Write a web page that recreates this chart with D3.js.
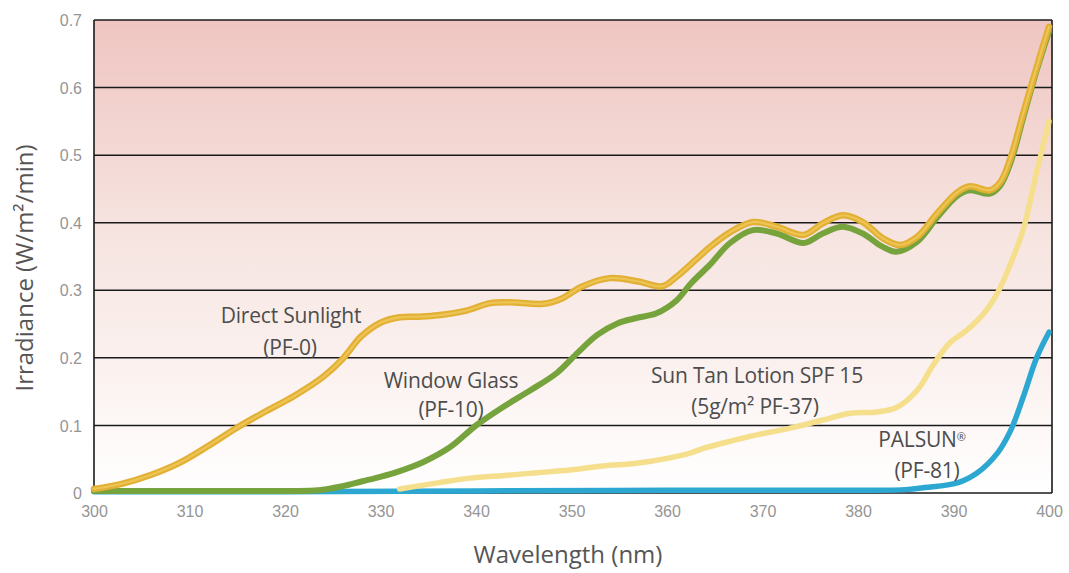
<!DOCTYPE html>
<html>
<head>
<meta charset="utf-8">
<script src="https://cdn.jsdelivr.net/npm/d3@7"></script>
<style>
  html, body { margin: 0; padding: 0; background: #ffffff; }
  svg { display: block; font-family: "Open Sans", "Noto Sans", sans-serif; }
</style>
</head>
<body>
<svg id="chart" width="1069" height="573"></svg>
<script>
// ---- data ----
const xTicks = [300, 310, 320, 330, 340, 350, 360, 370, 380, 390, 400];
const yTicks = [0, 0.1, 0.2, 0.3, 0.4, 0.5, 0.6, 0.7];
const yTickLabels = ["0", "0.1", "0.2", "0.3", "0.4", "0.5", "0.6", "0.7"];

const sunWl = [300,303,306,309,312,315,318,321,324,326,328,330,332,334,336,339,341.5,344,347,349,351,354,357,359.5,361,363,364.5,366.5,369,371.5,374.3,376.3,378.4,380.5,382.6,384.4,386.2,388.3,390.4,391.7,393.8,394.9,396,397.3,398.7,400];
const sunVal = [0.006,0.014,0.027,0.045,0.07,0.097,0.121,0.144,0.172,0.198,0.232,0.252,0.26,0.261,0.263,0.27,0.281,0.282,0.28,0.288,0.305,0.318,0.313,0.306,0.32,0.345,0.364,0.385,0.401,0.394,0.382,0.399,0.411,0.401,0.377,0.367,0.379,0.414,0.445,0.454,0.448,0.46,0.497,0.562,0.63,0.69];

const glassWl = [300,310,320,323.5,326,328,330,331.7,334.5,337.3,340.1,342.8,345.7,348.5,350.6,352.7,354.8,356.8,358.9,361,362.5,364.5,366.6,369,371.5,374.3,376.3,378.4,380.5,382.5,384,386.2,388.3,390.4,391.7,393.8,394.9,396,397.3,398.7,400];
const glassVal = [0.003,0.003,0.003,0.004,0.01,0.017,0.024,0.031,0.046,0.068,0.101,0.127,0.152,0.178,0.207,0.234,0.251,0.259,0.266,0.285,0.31,0.338,0.37,0.389,0.384,0.37,0.384,0.394,0.384,0.365,0.357,0.372,0.408,0.44,0.448,0.443,0.455,0.49,0.555,0.625,0.683];

const lotionWl = [332,336,339.4,343,346.4,349.8,353.3,356.8,360.3,362.4,363.8,365.9,369.4,372.9,376.3,379.2,382,384.1,386.2,387.9,389.6,391.4,393.2,394.6,396,397.3,398.7,400];
const lotionVal = [0.006,0.015,0.022,0.026,0.03,0.034,0.04,0.044,0.052,0.059,0.066,0.074,0.086,0.096,0.108,0.118,0.12,0.127,0.152,0.19,0.222,0.241,0.266,0.296,0.34,0.39,0.475,0.55];

const palsunWl = [300,320,340,360,380,385,387,390.4,392.5,394.6,396,397.3,398.7,400];
const palsunVal = [0.002,0.002,0.003,0.004,0.004,0.005,0.008,0.015,0.03,0.059,0.093,0.142,0.2,0.238];

const seriesNames = ["PALSUN", "Sun Tan Lotion SPF 15", "Window Glass", "Direct Sunlight"];

// ---- layout ----
const plotLeft = 94, plotRight = 1052, plotTop = 20, plotBottom = 493;
const x = d3.scaleLinear().domain([300, 400]).range([plotLeft, 1049]);
const y = d3.scaleLinear().domain([0, 0.7]).range([plotBottom, plotTop]);

const svg = d3.select("#chart");

// background gradient
const defs = svg.append("defs");
const grad = defs.append("linearGradient").attr("id", "bg").attr("x1", 0).attr("y1", 0).attr("x2", 0).attr("y2", 1);
grad.append("stop").attr("offset", "0%").attr("stop-color", "#efc5c1");
grad.append("stop").attr("offset", "45%").attr("stop-color", "#f6e4e0");
grad.append("stop").attr("offset", "75%").attr("stop-color", "#fbf2f0");
grad.append("stop").attr("offset", "100%").attr("stop-color", "#ffffff");

svg.append("rect")
  .attr("x", plotLeft).attr("y", plotTop)
  .attr("width", plotRight - plotLeft).attr("height", plotBottom - plotTop)
  .attr("fill", "url(#bg)");

// gridlines
svg.append("g").selectAll("line").data(yTicks).join("line")
  .attr("x1", plotLeft).attr("x2", plotRight)
  .attr("y1", d => y(d)).attr("y2", d => y(d))
  .attr("stroke", "#1a1a1a").attr("stroke-width", 1.5);

// side borders
svg.append("line").attr("x1", plotLeft).attr("x2", plotLeft).attr("y1", plotTop).attr("y2", plotBottom)
  .attr("stroke", "#1a1a1a").attr("stroke-width", 1.6);
svg.append("line").attr("x1", plotRight).attr("x2", plotRight).attr("y1", plotTop).attr("y2", plotBottom)
  .attr("stroke", "#1a1a1a").attr("stroke-width", 1.6);

// axes (labels only)
const yAxis = d3.axisLeft(y).tickValues(yTicks).tickFormat((d, i) => yTickLabels[i]).tickSize(0).tickPadding(12);
const gy = svg.append("g").attr("transform", `translate(${plotLeft},0)`).call(yAxis);
gy.select(".domain").remove();
gy.selectAll("text").attr("fill", "#959595").style("font-size", "16px").attr("dy", "0.35em");

const xAxis = d3.axisBottom(x).tickValues(xTicks).tickFormat(d3.format("d")).tickSize(0).tickPadding(13);
const gx = svg.append("g").attr("transform", `translate(0,${plotBottom})`).call(xAxis);
gx.select(".domain").remove();
gx.selectAll("text").attr("fill", "#959595").style("font-size", "16px");

// lines
const makeLine = d3.line().x(d => x(d[0])).y(d => y(d[1])).curve(d3.curveCatmullRom.alpha(0.5));
const zip = (a, b) => a.map((w, i) => [w, b[i]]);

const series = [
  { name: seriesNames[0], data: zip(palsunWl, palsunVal), color: "#2ba7d2", width: 5.5 },
  { name: seriesNames[1], data: zip(lotionWl, lotionVal), color: "#f5df8c", width: 5.5 },
  { name: seriesNames[2], data: zip(glassWl, glassVal), color: "#77a33d", width: 6 },
  { name: seriesNames[3], data: zip(sunWl, sunVal), color: "#e2b035", width: 6.5 }
];

const gl = svg.append("g");
series.forEach(s => {
  gl.append("path").datum(s.data)
    .attr("d", makeLine)
    .attr("fill", "none")
    .attr("stroke", s.color)
    .attr("stroke-width", s.width)
    .attr("stroke-linejoin", "round")
    .attr("stroke-linecap", "round");
});
// soft highlight on sunlight line
gl.append("path").datum(series[3].data)
  .attr("d", makeLine).attr("fill", "none")
  .attr("stroke", "#edc555").attr("stroke-width", 2.2).attr("stroke-linecap", "round");

// annotations
const notes = [
  { t: "Direct Sunlight", x: 291, y: 323 },
  { t: "(PF-0)", x: 290, y: 355 },
  { t: "Window Glass", x: 451, y: 388 },
  { t: "(PF-10)", x: 451, y: 417 },
  { t: "Sun Tan Lotion SPF 15", x: 757, y: 383 },
  { t: "(5g/m² PF-37)", x: 755, y: 414 },
  { t: "PALSUN", x: 922, y: 447, sup: "®" },
  { t: "(PF-81)", x: 927, y: 478 }
];
const nt = svg.append("g").selectAll("text").data(notes).join("text")
  .attr("x", d => d.x).attr("y", d => d.y)
  .attr("text-anchor", "middle")
  .attr("fill", "#4d4d4d")
  .style("font-size", "21px")
  .style("letter-spacing", "-0.2px");
nt.append("tspan").text(d => d.t);
nt.filter(d => d.sup).append("tspan")
  .attr("dy", "-0.55em")
  .style("font-size", "11px")
  .text(d => d.sup);

// axis titles
svg.append("text")
  .attr("transform", "translate(33,268) rotate(-90)")
  .attr("text-anchor", "middle")
  .attr("fill", "#555")
  .style("font-size", "24px")
  .text("Irradiance (W/m²/min)");

svg.append("text")
  .attr("x", 568).attr("y", 563)
  .attr("text-anchor", "middle")
  .attr("fill", "#555")
  .style("font-size", "24px")
  .text("Wavelength (nm)");
</script>
</body>
</html>
